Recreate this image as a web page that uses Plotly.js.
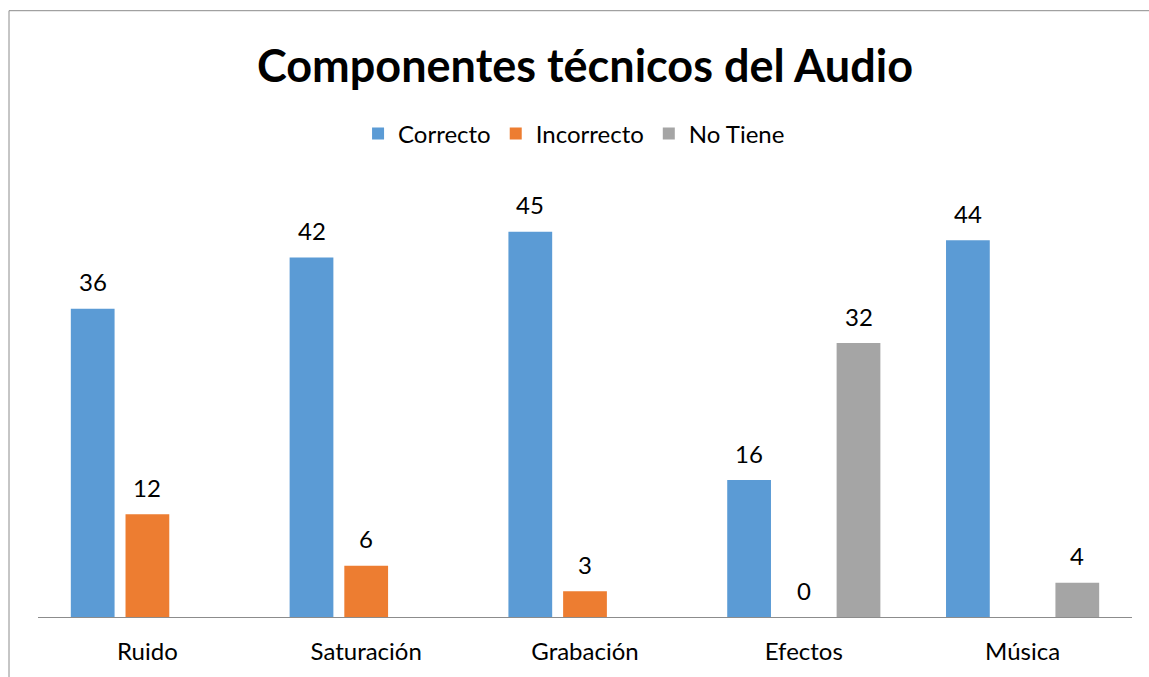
<!DOCTYPE html>
<html>
<head>
<meta charset="utf-8">
<script src="https://cdn.plot.ly/plotly-3.0.1.min.js"></script>
<style>html,body{margin:0;padding:0;background:#fff;}#chart{width:1149px;height:677px;}</style>
</head>
<body>
<div id="chart"></div>
<script>
const categories = ["Ruido", "Saturación", "Grabación", "Efectos", "Música"];
const seriesNames = ["Correcto", "Incorrecto", "No Tiene"];
const correcto = [36, 42, 45, 16, 44];
const incorrecto = [12, 6, 3, 0, null];
const noTiene = [null, null, null, 32, 4];
const colors = ["#5B9BD5", "#ED7D31", "#A5A5A5"];
const allSeries = [correcto, incorrecto, noTiene];

const FONT = "Lato, Carlito, Calibri, 'Open Sans', sans-serif";
const FS = 24;

const traces = allSeries.map((vals, i) => ({
  type: "bar",
  name: seriesNames[i],
  x: categories,
  y: vals,
  marker: {color: colors[i], line: {width: 0}},
  hoverinfo: "x+y+name"
}));

const slotPx = 54.7;
const annotations = [];
allSeries.forEach((vals, i) => {
  vals.forEach((v, j) => {
    if (v === null) return;
    annotations.push({
      x: categories[j], y: v, xref: "x", yref: "y",
      text: String(v), showarrow: false,
      xshift: (i - 1) * slotPx, yshift: 27, yanchor: "middle",
      font: {family: FONT, size: FS, color: "#000"}
    });
  });
});

const layout = {
  width: 1149, height: 677,
  margin: {l: 38, r: 17, t: 189, b: 60},
  paper_bgcolor: "#fff", plot_bgcolor: "#fff",
  font: {family: FONT, size: FS, color: "#000"},
  title: {text: "<b>Componentes técnicos del Audio</b>", x: 0.5, xref: "paper", xanchor: "center",
          y: 0.902, yref: "container", yanchor: "middle",
          font: {family: FONT, size: 45, color: "#000"}},
  barmode: "group", bargap: 0.25, bargroupgap: 0.2,
  showlegend: true,
  legend: {orientation: "h", x: 0.49, xanchor: "center", y: 1.1287, yanchor: "middle",
           font: {family: FONT, size: FS, color: "#000"}, itemwidth: 30, traceorder: "normal"},
  xaxis: {type: "category", showline: true, linecolor: "#8C8C8C", linewidth: 1,
          ticks: "", showgrid: false, zeroline: false, ticklabelstandoff: 13,
          tickfont: {family: FONT, size: FS, color: "#000"}, fixedrange: true},
  yaxis: {range: [0, 50], visible: false, showgrid: false, zeroline: false, fixedrange: true},
  annotations: annotations,
  shapes: [{type: "rect", xref: "paper", yref: "paper",
            x0: -0.0265, x1: 1.03, y0: -0.2, y1: 1.4166,
            line: {color: "#8C8C8C", width: 1}, fillcolor: "rgba(0,0,0,0)", layer: "below"}]
};

Plotly.newPlot("chart", traces, layout, {displayModeBar: false, staticPlot: true});
</script>
</body>
</html>
